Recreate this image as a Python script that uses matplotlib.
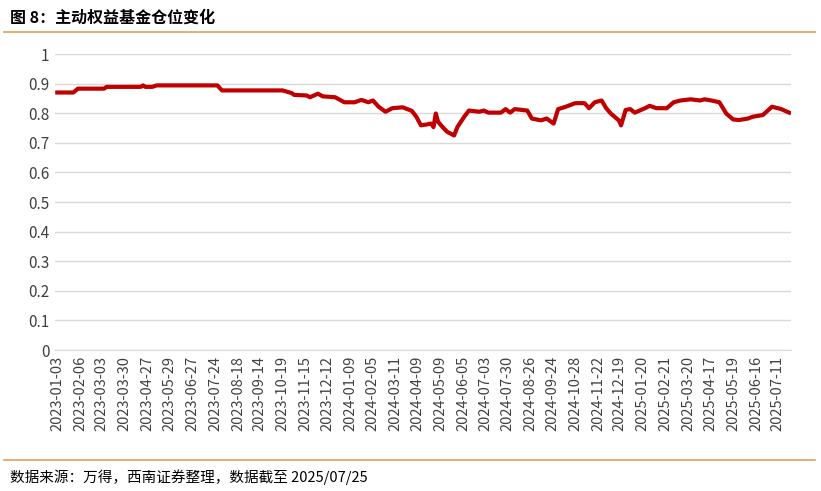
import matplotlib
matplotlib.use("Agg")
import matplotlib.pyplot as plt
from matplotlib.lines import Line2D

plt.rcParams['font.family'] = ['Noto Sans CJK SC', 'DejaVu Sans']

tick_labels = ["2023-01-03","2023-02-06","2023-03-03","2023-03-30","2023-04-27","2023-05-29","2023-06-27",
"2023-07-24","2023-08-18","2023-09-14","2023-10-19","2023-11-15","2023-12-12","2024-01-09","2024-02-05",
"2024-03-11","2024-04-09","2024-05-09","2024-06-05","2024-07-03","2024-07-30","2024-08-26","2024-09-24",
"2024-10-28","2024-11-22","2024-12-19","2025-01-20","2025-02-21","2025-03-20","2025-04-17","2025-05-19",
"2025-06-16","2025-07-11"]

# trading-day number and fund position
day = [0,14,18,41,43,73,75,77,83,87,140,144,197,205,207,218,221,228,232,243,251,260,266,272,276,281,287,293,
302,310,314,318,323,327,329,331,333,337,341,347,350,356,360,369,373,377,388,392,396,400,411,415,423,428,434,
438,444,453,461,465,470,476,480,484,491,493,497,501,505,514,518,524,533,539,545,554,562,566,572,579,585,591,
596,604,608,617,625,633,640]
pos = [0.870,0.870,0.883,0.883,0.889,0.889,0.894,0.889,0.889,0.894,0.894,0.877,0.877,0.868,0.862,0.860,0.854,
0.866,0.857,0.854,0.837,0.837,0.845,0.837,0.843,0.822,0.805,0.817,0.820,0.808,0.788,0.759,0.762,0.765,0.753,
0.799,0.771,0.753,0.737,0.725,0.754,0.789,0.809,0.805,0.809,0.802,0.802,0.814,0.802,0.814,0.809,0.782,0.776,
0.782,0.765,0.814,0.821,0.834,0.834,0.817,0.837,0.843,0.817,0.799,0.776,0.759,0.811,0.814,0.802,0.817,0.825,
0.817,0.817,0.837,0.843,0.847,0.843,0.847,0.843,0.837,0.799,0.779,0.777,0.782,0.788,0.794,0.822,0.814,0.802]

fig = plt.figure(figsize=(8.21, 4.91), dpi=100)
ax = fig.add_axes([0.067, 0.287, 0.897, 0.603])
ax.plot(day, pos, color='#C00000', lw=3)
ax.set_ylim(0, 1)
ax.set_xlim(-2, 642)
ax.set_yticks([i/10 for i in range(11)])
ax.set_yticklabels(["0"] + [f"{i/10:.1f}" for i in range(1, 10)] + ["1"], fontsize=11, color='#404040')
ax.set_xticks([round(i*19.7) for i in range(len(tick_labels))])
ax.set_xticklabels(tick_labels, rotation=90, fontsize=10.5, color='#404040')
ax.grid(axis='y', color='#d9d9d9', lw=1)
ax.set_axisbelow(True)
for s in ['top', 'right', 'left']:
    ax.spines[s].set_visible(False)
ax.spines['bottom'].set_color('#d9d9d9')
ax.tick_params(length=0, pad=4)

fig.text(0.012, 0.965, "图 8：主动权益基金仓位变化", fontsize=11.5, fontweight='bold', va='center')
fig.add_artist(Line2D([0.005, 0.993], [0.935, 0.935], color='#E0A060', lw=1.2))
fig.add_artist(Line2D([0.005, 0.993], [0.063, 0.063], color='#E0A060', lw=1.2))
fig.text(0.012, 0.028, "数据来源：万得，西南证券整理，数据截至 2025/07/25", fontsize=10.5, style='italic', va='center')

fig.savefig("out.png", dpi=100)
